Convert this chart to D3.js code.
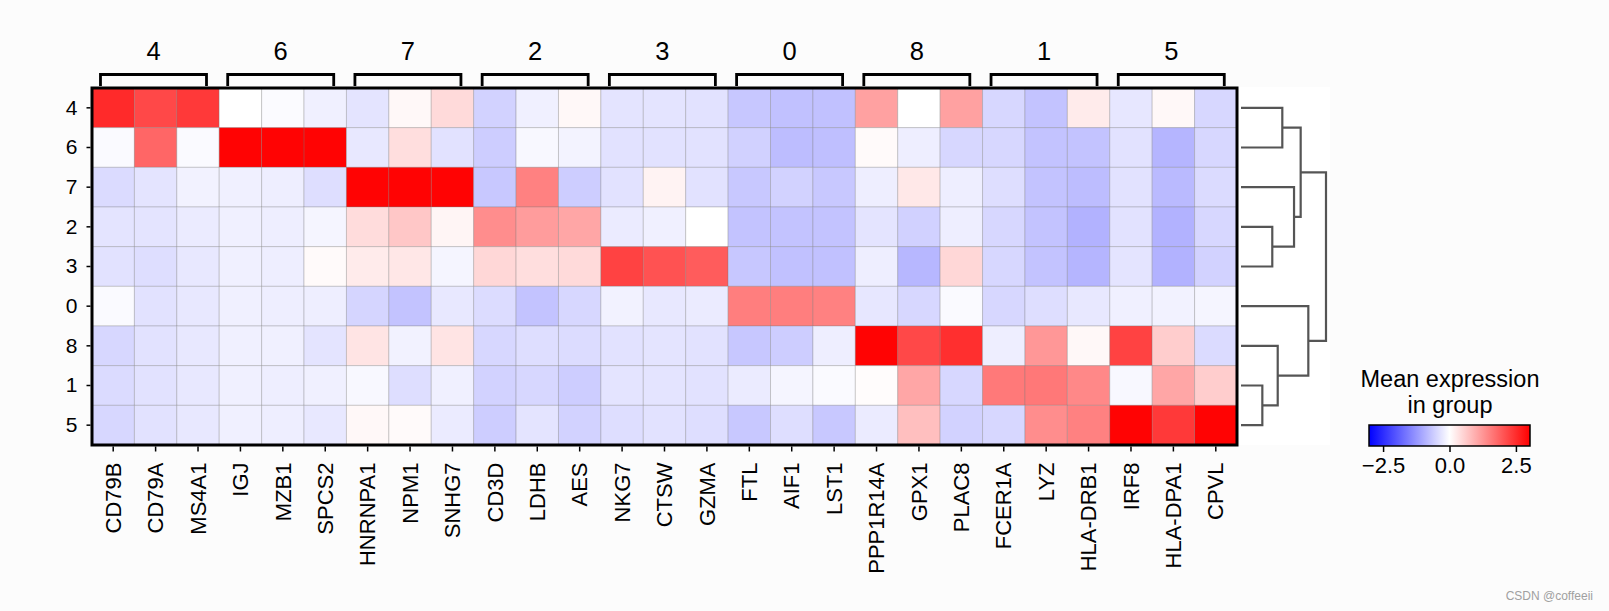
<!DOCTYPE html>
<html><head><meta charset="utf-8">
<script src="https://cdn.jsdelivr.net/npm/d3@7/dist/d3.min.js"></script>
<style>
html,body{margin:0;padding:0;background:#fcfcfc;}
svg{display:block;font-family:"Liberation Sans",Arial,sans-serif;}
</style></head>
<body><svg id="chart" width="1609" height="611"></svg>
<script>
// ---------- data ----------
const genes = ["CD79B","CD79A","MS4A1","IGJ","MZB1","SPCS2","HNRNPA1","NPM1","SNHG7",
  "CD3D","LDHB","AES","NKG7","CTSW","GZMA","FTL","AIF1","LST1",
  "PPP1R14A","GPX1","PLAC8","FCER1A","LYZ","HLA-DRB1","IRF8","HLA-DPA1","CPVL"];
const groupLabels = ["4","6","7","2","3","0","8","1","5"];
const groupSizes = [3,3,3,3,3,3,3,3,3];
const rowLabels = ["4","6","7","2","3","0","8","1","5"];

const row4 = [2.53,2.18,2.35,0.0,-0.05,-0.18,-0.32,0.08,0.44,-0.53,-0.18,0.08,-0.32,-0.32,-0.35,-0.67,-0.74,-0.74,1.12,0.0,1.12,-0.47,-0.71,0.24,-0.29,0.08,-0.47];
const row6 = [-0.06,1.82,-0.06,3.0,3.0,3.0,-0.27,0.39,-0.35,-0.59,-0.08,-0.14,-0.35,-0.35,-0.35,-0.55,-0.79,-0.76,0.06,-0.2,-0.47,-0.47,-0.71,-0.71,-0.35,-0.88,-0.47];
const row7 = [-0.43,-0.32,-0.15,-0.18,-0.2,-0.39,3.0,3.0,3.0,-0.65,1.5,-0.59,-0.35,0.14,-0.35,-0.65,-0.53,-0.65,-0.2,0.27,-0.2,-0.39,-0.71,-0.79,-0.35,-0.82,-0.43];
const row2 = [-0.32,-0.32,-0.24,-0.18,-0.2,-0.12,0.41,0.67,0.12,1.35,1.18,1.06,-0.24,-0.18,0.0,-0.71,-0.71,-0.71,-0.32,-0.55,-0.2,-0.47,-0.71,-0.91,-0.35,-0.91,-0.47];
const row3 = [-0.35,-0.39,-0.27,-0.18,-0.2,0.06,0.24,0.29,-0.12,0.47,0.39,0.44,2.24,2.06,1.94,-0.67,-0.74,-0.74,-0.2,-0.86,0.47,-0.47,-0.71,-0.88,-0.32,-0.91,-0.53];
const row0 = [-0.06,-0.35,-0.27,-0.18,-0.2,-0.2,-0.5,-0.71,-0.27,-0.41,-0.71,-0.47,-0.15,-0.27,-0.24,1.53,1.53,1.5,-0.29,-0.47,-0.06,-0.47,-0.39,-0.27,-0.18,-0.15,-0.12];
const row8 = [-0.47,-0.35,-0.27,-0.18,-0.18,-0.32,0.32,-0.15,0.32,-0.47,-0.39,-0.41,-0.35,-0.32,-0.35,-0.67,-0.59,-0.2,3.0,2.18,2.47,-0.2,1.24,0.08,2.24,0.59,-0.43];
const row1 = [-0.43,-0.35,-0.27,-0.18,-0.2,-0.18,-0.08,-0.39,-0.18,-0.53,-0.47,-0.59,-0.32,-0.32,-0.35,-0.24,-0.12,-0.06,0.04,1.06,-0.47,1.59,1.61,1.41,-0.08,1.06,0.59];
const row5 = [-0.47,-0.35,-0.27,-0.18,-0.2,-0.27,0.08,0.06,-0.24,-0.59,-0.32,-0.53,-0.39,-0.35,-0.39,-0.65,-0.39,-0.65,-0.24,0.76,-0.53,-0.47,1.35,1.5,3.0,2.35,3.0];
const matrixRows = [row4,row6,row7,row2,row3,row0,row8,row1,row5];

// dendrogram: merges of [childA, childB, height]; leaves 0..8 are display rows, new nodes numbered 9..
const dendroMerges = [[0,1,0.486],[3,4,0.368],[2,10,0.624],[9,11,0.702],[7,8,0.251],[6,13,0.432],[5,14,0.792],[12,15,1.0]];

const cbTicks = [-2.5, 0, 2.5];
const cbTickLabels = ["\u22122.5","0.0","2.5"];
const legendTitle = ["Mean expression","in group"];
const watermark = "CSDN @coffeeii";

// ---------- layout ----------
const svg = d3.select("#chart");
const X0 = 92, X1 = 1237, Y0 = 88, Y1 = 445;
const x = d3.scaleBand().domain(genes).range([X0, X1]);
const xi = d3.scaleLinear().domain([0, genes.length]).range([X0, X1]);
const y = d3.scaleBand().domain(rowLabels).range([Y0, Y1]);
const vmax = 3.03;
const color = d3.scaleLinear().domain([-vmax, 0, vmax]).range(["#0000ff","#ffffff","#ff0000"]).clamp(true);

// dendrogram background
svg.append("rect").attr("x", X1).attr("y", Y0 - 1).attr("width", 93).attr("height", Y1 - Y0 + 1).attr("fill", "#ffffff");

// cells
const cells = [];
matrixRows.forEach((r, i) => r.forEach((v, j) => cells.push({row: rowLabels[i], gene: genes[j], v})));
svg.append("g").selectAll("rect").data(cells).join("rect")
  .attr("x", d => x(d.gene)).attr("y", d => y(d.row))
  .attr("width", x.bandwidth()).attr("height", y.bandwidth())
  .attr("fill", d => color(d.v))
  .attr("stroke", "rgba(120,120,120,0.3)").attr("stroke-width", 1);

// frame
svg.append("rect").attr("x", X0).attr("y", Y0).attr("width", X1 - X0).attr("height", Y1 - Y0)
  .attr("fill", "none").attr("stroke", "#000").attr("stroke-width", 3);

// y axis
const yAxis = svg.append("g").attr("transform", `translate(${X0 - 1.5},0)`)
  .call(d3.axisLeft(y).tickSize(4).tickPadding(9));
yAxis.select(".domain").remove();
yAxis.selectAll("line").attr("stroke", "#000").attr("stroke-width", 1.5);
yAxis.selectAll("text").attr("font-size", 21).attr("fill", "#000").attr("font-family", "Liberation Sans, Arial, sans-serif");

// x axis
const xAxis = svg.append("g").attr("transform", `translate(0,${Y1 + 1.5})`)
  .call(d3.axisBottom(x).tickSize(5).tickPadding(0));
xAxis.select(".domain").remove();
xAxis.selectAll("line").attr("stroke", "#000").attr("stroke-width", 1.5);
xAxis.selectAll("text")
  .attr("font-size", 22).attr("fill", "#000").attr("font-family", "Liberation Sans, Arial, sans-serif")
  .attr("transform", "translate(0,16) rotate(-90)")
  .attr("text-anchor", "end").attr("dy", "0.35em").attr("x", 0).attr("y", 0);

// group brackets
let start = 0;
const groups = groupLabels.map((g, k) => { const o = {label: g, start, end: start + groupSizes[k] - 1}; start += groupSizes[k]; return o; });
const bg = svg.append("g");
bg.selectAll("path").data(groups).join("path")
  .attr("d", d => `M${xi(d.start + 0.2)},86 V74.5 H${xi(d.end + 0.7)} V86`)
  .attr("fill", "none").attr("stroke", "#000").attr("stroke-width", 2.8);
bg.selectAll("text").data(groups).join("text")
  .attr("x", d => (xi(d.start + 0.2) + xi(d.end + 0.7)) / 2).attr("y", 59.5)
  .attr("text-anchor", "middle").attr("font-size", 25.5).attr("fill", "#000")
  .text(d => d.label);

// dendrogram
const dx = d3.scaleLinear().domain([0, 1]).range([1241, 1326]);
const nodes = rowLabels.map(r => ({y: y(r) + y.bandwidth() / 2, h: 0}));
const links = [];
dendroMerges.forEach(([a, b, h]) => {
  const A = nodes[a], B = nodes[b];
  links.push(`M${dx(A.h)},${A.y} H${dx(h)} V${B.y} H${dx(B.h)}`);
  nodes.push({y: (A.y + B.y) / 2, h});
});
svg.append("g").selectAll("path").data(links).join("path")
  .attr("d", d => d).attr("fill", "none").attr("stroke", "#555555").attr("stroke-width", 2.2);

// colorbar
const cb = d3.scaleLinear().domain([-vmax, vmax]).range([1369, 1530]);
const defs = svg.append("defs");
const grad = defs.append("linearGradient").attr("id", "bwr");
[-vmax, 0, vmax].forEach(v => grad.append("stop")
  .attr("offset", ((v + vmax) / (2 * vmax) * 100) + "%").attr("stop-color", color(v)));
svg.append("rect").attr("x", cb(-vmax)).attr("y", 425).attr("width", cb(vmax) - cb(-vmax)).attr("height", 21)
  .attr("fill", "url(#bwr)").attr("stroke", "#000").attr("stroke-width", 1.5);
const cbAxis = svg.append("g").attr("transform", "translate(0,446)")
  .call(d3.axisBottom(cb).tickValues(cbTicks).tickFormat((d, i) => cbTickLabels[i]).tickSize(6).tickPadding(5));
cbAxis.select(".domain").remove();
cbAxis.selectAll("line").attr("stroke", "#000").attr("stroke-width", 1.5);
cbAxis.selectAll("text").attr("font-size", 22).attr("fill", "#000").attr("font-family", "Liberation Sans, Arial, sans-serif");

svg.append("g").selectAll("text").data(legendTitle).join("text")
  .attr("x", 1450).attr("y", (d, i) => 387 + i * 26)
  .attr("text-anchor", "middle").attr("font-size", 23.5).attr("fill", "#000")
  .text(d => d);

svg.append("text").attr("x", 1593).attr("y", 600).attr("text-anchor", "end")
  .attr("font-size", 12).attr("fill", "#a0a0a0").text(watermark);
</script></body></html>
